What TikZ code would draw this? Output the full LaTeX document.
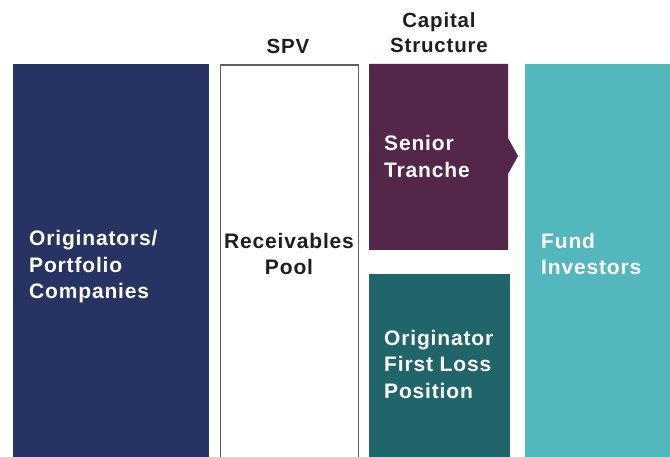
\documentclass[tikz,border=0pt]{standalone}
\usepackage{fontspec}
\setmainfont{Liberation Sans}[LetterSpace=4]
\begin{document}
\begin{tikzpicture}[x=1pt,y=-1pt,
  lbl/.style={text=white,font=\fontsize{21}{26.5}\selectfont\bfseries,align=left,inner sep=0pt},
  head/.style={text=black!88,font=\fontsize{20.5}{25}\selectfont\bfseries,align=center,inner sep=0pt},
  box/.style={draw=none,inner sep=0pt,anchor=north west}]
\definecolor{navy}{HTML}{273363}
\definecolor{plum}{HTML}{53264A}
\definecolor{deepteal}{HTML}{20656A}
\definecolor{aqua}{HTML}{53B8BE}
\useasboundingbox (0,0) rectangle (670,457);
\fill[white] (0,0) rectangle (670,457);

% columns
\node[box,fill=navy,minimum width=196pt,minimum height=393pt] (orig) at (13,64) {};
\node[box,fill=white,draw=black!62,line width=1.2pt,minimum width=138pt,minimum height=396pt] (spv) at (219.5,64.5) {};
\node[box,fill=deepteal,minimum width=141pt,minimum height=183pt] (flp) at (369,274) {};
\node[box,fill=aqua,minimum width=146pt,minimum height=393pt] (fund) at (525,64) {};
% senior tranche with arrow notch pointing to investors
\fill[plum] (369,64) -- (508,64) -- (508,138) -- (518,156) -- (508,174) -- (508,250) -- (369,250) -- cycle;
\coordinate (sen) at (438.5,157);

% headings
\node[head] (hspv) at (288,46) {SPV};
\node[head] (hcap) at (439,33) {Capital\\Structure};

% labels
\node[lbl,anchor=west] (torig) at (29,267) {Originators/\\Portfolio\\Companies};
\node[lbl,anchor=center,align=center,text=black!88] (tspv) at (289,254) {Receivables\\Pool};
\node[lbl,anchor=west] (tsen) at (384,156.5) {Senior\\Tranche};
\node[lbl,anchor=west] (tflp) at (384,364) {Originator\\First Loss\\Position};
\node[lbl,anchor=west] (tfund) at (541,254) {Fund\\Investors};
\end{tikzpicture}
\end{document}
